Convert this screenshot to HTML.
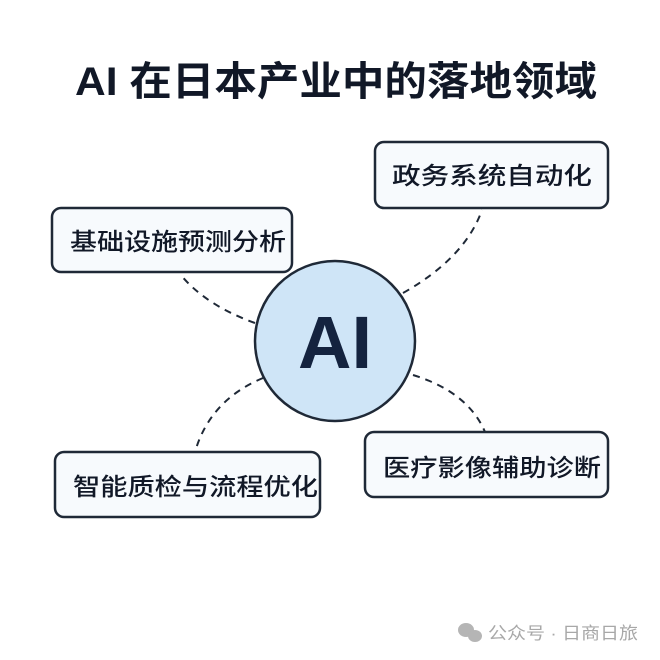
<!DOCTYPE html>
<html><head><meta charset="utf-8"><style>
html,body{margin:0;padding:0;background:#fff;}
svg{display:block}
text{font-family:"Liberation Sans","Noto Sans CJK SC",sans-serif;fill:#111827}
</style></head><body>
<svg width="660" height="660" viewBox="0 0 660 660" xmlns="http://www.w3.org/2000/svg">
<rect width="660" height="660" fill="#fff"/>
<text x="75" y="95" font-size="40" font-weight="bold" textLength="522" lengthAdjust="spacingAndGlyphs">AI 在日本产业中的落地领域</text>
<g fill="none" stroke="#1f2937" stroke-width="2" stroke-dasharray="7,6">
<path d="M255 323 Q205 305 180 274"/>
<path d="M403 293 Q465 258 482 210"/>
<path d="M413 375 Q468 392 485 432"/>
<path d="M263 378 Q210 400 195 452"/>
</g>
<g fill="#f7fafd" stroke="#1f2937" stroke-width="2.5">
<rect x="375" y="142" width="233" height="66" rx="9"/>
<rect x="52" y="208" width="240" height="64" rx="9"/>
<rect x="55" y="452" width="265" height="65" rx="9"/>
<rect x="365" y="432" width="243" height="65" rx="9"/>
</g>
<circle cx="335" cy="341" r="80" fill="#cfe5f7" stroke="#1f2937" stroke-width="2.5"/>
<text x="335" y="368" font-size="74" font-weight="bold" text-anchor="middle" style="fill:#14233f">AI</text>
<g font-size="24" font-weight="500">
<text x="392" y="184" textLength="200" lengthAdjust="spacingAndGlyphs">政务系统自动化</text>
<text x="70" y="250" textLength="216" lengthAdjust="spacingAndGlyphs">基础设施预测分析</text>
<text x="73" y="495" textLength="245" lengthAdjust="spacingAndGlyphs">智能质检与流程优化</text>
<text x="383" y="476" textLength="218" lengthAdjust="spacingAndGlyphs">医疗影像辅助诊断</text>
</g>
<g fill="#b5b5b5">
<ellipse cx="466" cy="630" rx="8" ry="7"/>
<ellipse cx="475" cy="636" rx="7" ry="6"/>
</g>
<text x="488" y="639" font-size="17" style="fill:#a8a8a8" textLength="150" lengthAdjust="spacingAndGlyphs">公众号 · 日商日旅</text>
</svg>
</body></html>
